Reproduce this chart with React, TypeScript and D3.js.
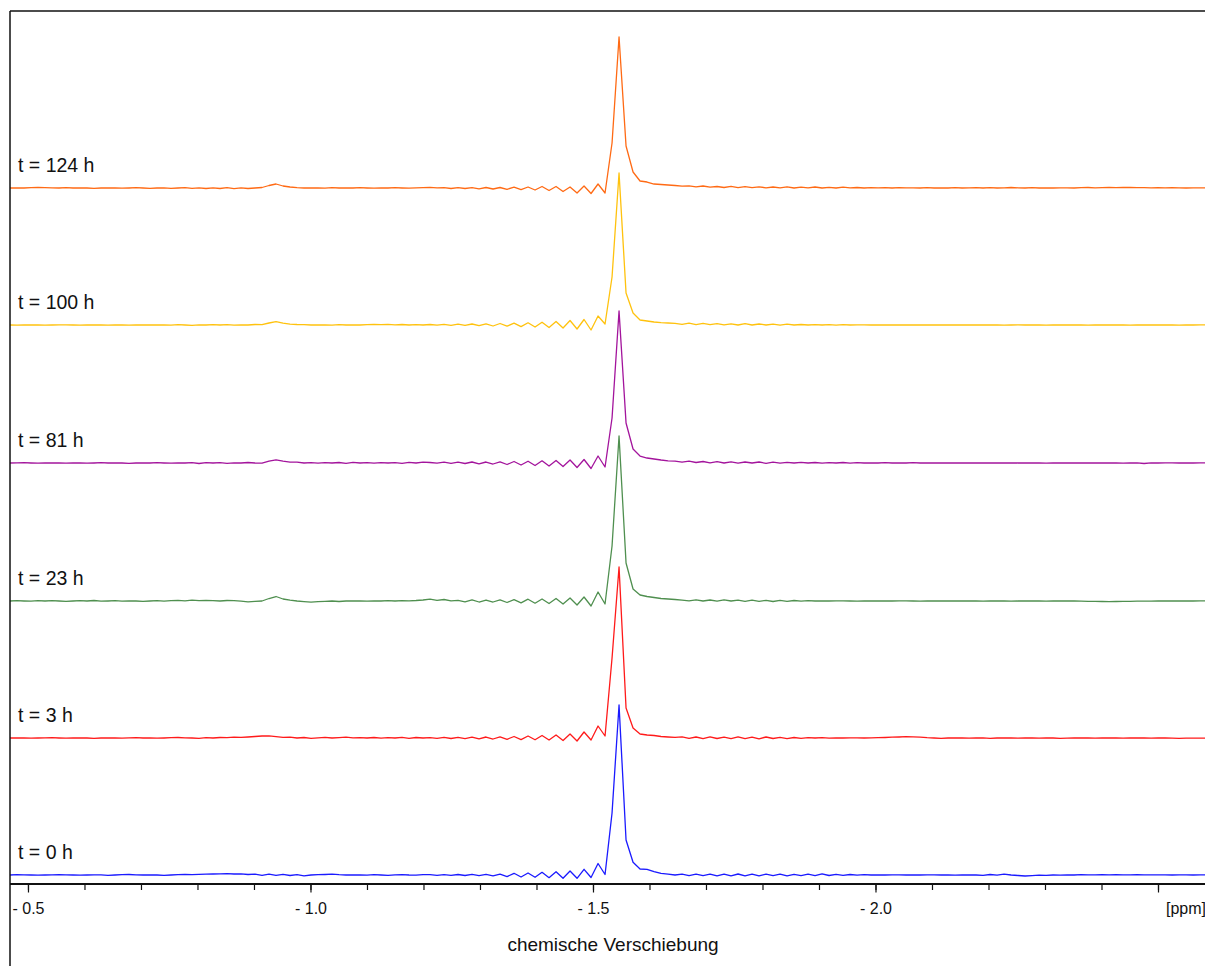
import React from "react";
import * as d3 from "d3";

// ---- data ----
const ppmStart = -0.4673; // chemical shift of first sample
const ppmStep = 0.01239; // spacing between samples (ppm)
const xDomain = [-0.4673, -2.5823];

const labels = ["t = 0 h", "t = 3 h", "t = 23 h", "t = 81 h", "t = 100 h", "t = 124 h"];
const colors = ["#1a1aff", "#ff1a1a", "#4f8f4f", "#a3149c", "#ffc20e", "#ff6a14"];
const offsets = [0, 137, 274, 412, 550, 687];

const s0h = [
  0, 0.3, 0.2, 0, -0.2, 0, 0.2, 0.3, 0.1, 0,
  -0.2, 0, 0.2, 0.1, -0.3, 0, 0.3, 0.5, 0.2, 0,
  0.2, 0, -0.3, 0, 0.3, 0.5, 0.4, 0.6, 0.8, 1.0,
  1.2, 1.3, 1.0, 1.2, 0.5, 0.8, -0.3, 0.8, -0.4, 0.6,
  -0.5, 0.3, -0.8, 0, 0.3, 0.5, 0.8, 0.3, 0, 0.2,
  0, -0.2, 0.3, 0, -0.3, 0.2, 0.4, 0, -0.2, 0.3,
  0.3, -0.3, 0.4, -0.4, 0.5, -0.5, 0.6, -0.6, 0.6,
  -0.8, 0.8, -1.6, 1.7, -2.0, 2.0, -2.3, 2.7, -2.7, 3.3, -3.2, 4.0, -3.3, 5.7, -2.5, 11.5, 0.5,
  62, 170, 35, 12.7, 6, 5.7, 3.3, 1.7, 0.8, 0,
  0.8, -0.6, 0.9, -0.7, 0.8, -0.8, 0.9, -0.8, 1.0, -0.9,
  0.8, -0.8, 0.9, -0.7, 0.8, -0.9, 0.7, -0.6, 0.9, -0.7,
  1.2, -0.5, 0.6, -0.3, 0.5, -0.2, 0.3, 0, 0.2, 0,
  0.1, 0.2, 0, 0.1, 0, 0.2, 0.1, 0, 0.1, -0.2,
  0, 0.2, 0, -0.3, 0.5, -0.2, 0.8, 0, -0.5, -1.0,
  -0.6, -0.2, -0.4, 0, -0.2, 0.2, 0, 0.3, 0.2, 0.1,
  0.3, 0.2, 0.3, 0.2, 0.2, 0.3, 0.2, 0.2, 0.1, 0.2,
  0, 0.1, 0.2, 0, 0.1, 0,
];

const s3h = [
  0, 0.2, 0, -0.2, 0, 0.1, 0.3, 0, -0.2, 0,
  0.2, 0, -0.3, 0, 0.2, 0, -0.2, 0.1, 0.3, 0,
  0.2, -0.2, 0, 0.3, 0.5, 0.2, 0, -0.4, 0.3, 0,
  0.5, 0.3, 0.8, 0.6, 1.0, 1.5, 2.0, 2.2, 1.4, 0.6,
  0.8, 0, 0.5, -0.3, 0.2, 0.6, 0, 0.4, 0.8, 0.2,
  0.3, 0, 0.5, -0.2, 0.4, 0, 0.6, -0.3, 0.5, 0,
  0.4, -0.4, 0.6, -0.5, 0.7, -0.6, 0.8, -0.8, 1.0,
  -1.0, 1.2, -1.3, 1.5, -1.6, 2.0, -1.8, 2.5, -2.0, 3.0, -2.5, 4.0, -3.0, 6.0, -2.0, 12.0, 2.0,
  80, 171, 30, 10, 4, 3, 2.5, 1.5, 1.0, 0.6,
  1.2, -0.4, 1.0, -0.6, 1.1, -0.5, 0.9, -0.7, 1.2, -0.6,
  0.8, -0.8, 1.0, -0.5, 0.7, -0.6, 0.5, -0.3, 0.4, 0,
  0.3, -0.2, 0.2, 0, 0.2, 0.1, 0, 0.2, 0.3, 0.5,
  0.8, 1.0, 1.3, 1.2, 0.8, 0.3, 0, -0.3, 0, 0.2,
  0, -0.2, 0, 0.1, -0.3, 0, 0.2, 0, -0.2, 0,
  0.1, -0.2, 0, 0, -0.3, -0.2, 0, 0.1, 0, -0.2,
  0, 0.1, 0, -0.1, 0, 0.1, 0, -0.2, 0, 0,
  -0.2, -0.3, -0.2, -0.1, -0.2, -0.2,
];

const s23h = [
  0, 0.3, 0, -0.2, 0.3, 0, 0.4, 0, -0.3, 0,
  0.3, 0, 0.5, -0.2, 0, 0.3, -0.2, 0.2, 0, -0.4,
  0, 0.3, -0.2, 0.4, 0.6, 0.2, 0.8, 0.4, 0.6, 0.3,
  0, 0.5, 0.3, -0.2, -0.8, -0.4, 0, 2.5, 4.5, 2.0,
  0.8, 0, -0.6, -1.2, -0.6, -0.3, 0, -0.5, 0, 0.2,
  0, -0.2, 0.1, 0, 0.3, 0, 0.4, 0.2, 0.5, 1.0,
  1.8, 0.6, 1.5, 0.2, 0.6, -0.8, 1.2, -1.0, 1.0,
  -1.0, 1.2, -1.5, 1.3, -1.8, 1.8, -2.2, 2.0, -2.5, 2.5, -3.0, 3.0, -4.0, 4.0, -5.0, 9.0, -3.0,
  55, 165, 38, 12, 6, 4.5, 3.5, 2.5, 2.0, 1.5,
  0.8, 0.2, 1.2, 0, 1.0, -0.2, 1.2, 0, 0.9, -0.3,
  0.8, -0.4, 0.7, -0.5, 0.6, -0.3, 0.5, -0.2, 0.3, 0,
  0.2, 0, 0.1, 0.2, 0, -0.1, 0, 0.2, 0, 0.1,
  0, 0.2, 0.1, 0, -0.1, 0, 0.1, 0, 0.2, 0,
  0, 0.1, 0, -0.2, 0, 0.1, 0, -0.1, 0, 0,
  0.1, 0, -0.1, 0, 0, 0.1, 0, -0.2, -0.3, -0.4,
  -0.5, -0.6, -0.5, -0.4, -0.3, -0.2, -0.2, -0.1, 0, 0,
  0, 0.1, 0, 0, 0.1, 0,
];

const s81h = [
  0, 0.2, 0.3, 0, -0.2, 0, 0.2, 0, -0.2, 0.2,
  0, -0.2, 0, 0.3, 0, 0.2, 0, -0.3, 0, 0.2,
  0, 0.3, 0, -0.2, 0.2, 0, 0.3, -0.5, 0.3, 0,
  0.4, -0.3, 0.2, 0, 0.5, 0, -0.2, 1.8, 3.2, 1.8,
  0.8, 0.8, 0, 0.4, -0.2, 0.3, 0, 0.5, -0.3, 0.6,
  0, 0.4, -0.2, 0.3, 0, 0.4, -0.3, 0.6, 0, 0.8,
  0.5, -0.2, 0.8, -0.3, 0.8, -0.5, 1.0, -0.8, 1.0,
  -1.0, 1.2, -1.5, 1.5, -2.0, 1.8, -2.5, 2.2, -3.0, 2.5, -3.5, 3.0, -4.5, 3.5, -5.5, 7.0, -4.0,
  45, 152, 40, 14, 7, 5, 4, 3, 2.2, 1.8,
  0.8, 1.8, 0.5, 1.5, 0.2, 1.3, 0, 1.2, -0.2, 1.0,
  0, 1.0, -0.3, 0.8, -0.2, 0.7, 0, 0.6, 0, 0.5,
  -0.2, 0.4, 0, 0.5, -0.2, 0.3, 0, 0.2, 0, 0.3,
  0, 0.2, 0, 0.3, 0, 0.1, 0, 0.2, 0, 0,
  0.1, 0, 0.2, 0, 0.1, 0, 0, 0.2, 0, 0.1,
  0, 0.1, -0.1, 0, 0.1, 0, 0, 0.1, 0, 0,
  0, 0.1, 0, -0.1, 0, 0.1, -0.5, 0.2, 0, 0.1,
  0.2, 0, 0.1, 0, 0.2, 0,
];

const s100h = [
  0, -0.2, 0, 0.2, 0, -0.2, 0, 0.2, 0.1, 0,
  -0.2, 0, 0.2, 0, -0.1, 0.2, 0, -0.2, 0, 0.1,
  0, 0.2, 0, -0.2, 0.3, 0, -0.3, 0.2, 0, 0.4,
  0, 0.3, -0.2, 0.2, 0, 0.5, 0.3, 2.0, 3.4, 1.8,
  0.9, 0.5, 0.3, 0, 0.2, 0, -0.2, 0.3, 0, 0.2,
  0, 0.3, 0.5, 0.4, 0.6, 0.2, 0.5, 0, 0.3, 0,
  0.5, -0.2, 0.6, -0.3, 0.8, -0.4, 1.0, -0.6, 1.2,
  -1.0, 1.5, -1.2, 1.8, -1.6, 2.2, -2.0, 2.8, -2.5, 3.5, -3.0, 4.5, -4.0, 5.5, -5.0, 9.0, 1.0,
  48, 152, 32, 12, 5, 4, 3, 2.4, 2, 1.6,
  0.6, 1.8, 0.4, 1.6, 0.3, 1.4, 0.2, 1.2, 0, 1.3,
  0, 1.0, 0, 0.8, -0.2, 0.8, 0, 0.5, 0, 0.4,
  0, 0.3, -0.2, 0.3, 0, 0.2, 0.1, 0, 0.2, 0,
  0.1, 0, 0.2, 0, 0, 0.1, 0, 0.2, 0, 0,
  0, 0.1, 0, 0, 0.1, 0, -0.1, 0, 0.1, 0,
  0, 0, -0.1, 0, 0, 0.1, 0, 0, -0.1, 0,
  0, 0.1, 0, 0, -0.2, 0, 0, 0.1, 0, 0,
  0, -0.1, 0, 0, 0.1, 0,
];

const s124h = [
  0, 0.2, 0, 0.3, 0.5, 0.4, 0.2, 0, 0.3, 0,
  0.2, 0, -0.3, 0, 0.2, 0, -0.2, 0, 0.3, 0,
  -0.3, 0, 0.2, -0.3, 0, 0.4, -0.4, 0.2, -0.5, 0.2,
  -0.5, 0.3, -0.6, 0.2, -0.5, 0, 0.5, 2.5, 4.0, 2.0,
  1.0, 0.3, 0, 0.2, 0, -0.2, 0.3, 0, 0.2, 0,
  0.3, 0, -0.2, 0.2, 0, 0.3, 0, -0.2, 0.2, 0.4,
  0.6, 0.2, 0.3, -0.5, 0.3, -0.5, 0.3, -0.8, 0.5,
  -1.0, 0.5, -1.3, 0.8, -1.7, 1.0, -2.0, 1.5, -2.5, 1.5, -3.5, 1.0, -5.0, 2.0, -5.5, 4.0, -5.0,
  45, 151, 42, 16, 7, 6, 4, 3.5, 3, 2.5,
  1.8, 2.2, 1.2, 2.0, 0.8, 1.5, 0.5, 1.6, 0.3, 1.4,
  0.3, 1.2, 0.2, 1.0, 0.2, 1.1, 0, 0.9, 0.2, 1.0,
  0, 0.6, 0, 0.8, 0.2, 0.5, 0, 0.3, 0.2, 0.4,
  0, 0.3, 0.1, 0.2, 0, 0.3, 0, 0.2, 0, 0.3,
  0, 0.2, 0.4, 0, 0.3, 0, 0.2, 0.5, 0.2, 0,
  0.3, 0, 0.2, 0, 0.1, 0.2, 0, 0.3, 0.5, 0.2,
  0.3, 0.5, 0.4, 0.6, 0.5, 0.3, 0.4, 0.2, 0.3, 0.2,
  0.3, 0.2, 0, 0.1, 0.2, 0,
];

const spectra = [s0h, s3h, s23h, s81h, s100h, s124h];

const majorTicks = [-0.5, -1.0, -1.5, -2.0, -2.5];
const tickLabels = ["- 0.5", "- 1.0", "- 1.5", "- 2.0", ""];
const unitLabel = "[ppm]";
const axisTitle = "chemische Verschiebung";

// ---- layout ----
const W = 1205;
const H = 966;
const left = 10;
const top = 11;
const axisY = 884;
const font = "'Liberation Sans', Arial, sans-serif";

export default function App() {
  const x = d3.scaleLinear().domain(xDomain).range([left, W]);
  const y = d3.scaleLinear().domain([0, 864]).range([875, 11]);
  const minorTicks = d3.range(-0.5, -2.56, -0.1).map((v) => Math.round(v * 10) / 10);

  const line = (off: number) =>
    d3
      .line<number>()
      .x((_, i) => x(ppmStart - i * ppmStep))
      .y((v) => y(v + off));

  return (
    <svg
      width={W}
      height={H}
      style={{ position: "absolute", left: 0, top: 0, background: "#fff" }}
      fontFamily={font}
    >
      <defs>
        <clipPath id="plotClip">
          <rect x={left} y={top} width={W - left} height={axisY - top} />
        </clipPath>
      </defs>
      <rect x={0} y={0} width={W} height={H} fill="#fff" />
      <g clipPath="url(#plotClip)">
        {spectra.map((s, k) => (
          <path
            key={k}
            d={line(offsets[k])(s) || ""}
            fill="none"
            stroke={colors[k]}
            strokeWidth={1.3}
            strokeLinejoin="round"
          />
        ))}
      </g>
      {labels.map((l, k) => (
        <text key={l} x={18} y={y(offsets[k]) - 16} fontSize={19.5} fill="#111">
          {l}
        </text>
      ))}
      {/* frame */}
      <line x1={left} x2={left} y1={top} y2={H} stroke="#111" strokeWidth={1.5} />
      <line x1={left} x2={W} y1={top} y2={top} stroke="#111" strokeWidth={1.5} />
      <line x1={left} x2={W} y1={axisY} y2={axisY} stroke="#111" strokeWidth={1.8} />
      {/* ticks */}
      {minorTicks.map((t) => (
        <line key={"m" + t} x1={x(t)} x2={x(t)} y1={axisY} y2={axisY + 6} stroke="#111" strokeWidth={1.2} />
      ))}
      {majorTicks.map((t, i) => (
        <g key={"M" + t}>
          <line x1={x(t)} x2={x(t)} y1={axisY} y2={axisY + 8.5} stroke="#111" strokeWidth={1.2} />
          <text x={x(t)} y={914} fontSize={16} textAnchor="middle" fill="#111">
            {tickLabels[i]}
          </text>
        </g>
      ))}
      <text x={1166} y={914} fontSize={16} fill="#111">
        {unitLabel}
      </text>
      <text x={613} y={951} fontSize={19} textAnchor="middle" fill="#111">
        {axisTitle}
      </text>
    </svg>
  );
}
